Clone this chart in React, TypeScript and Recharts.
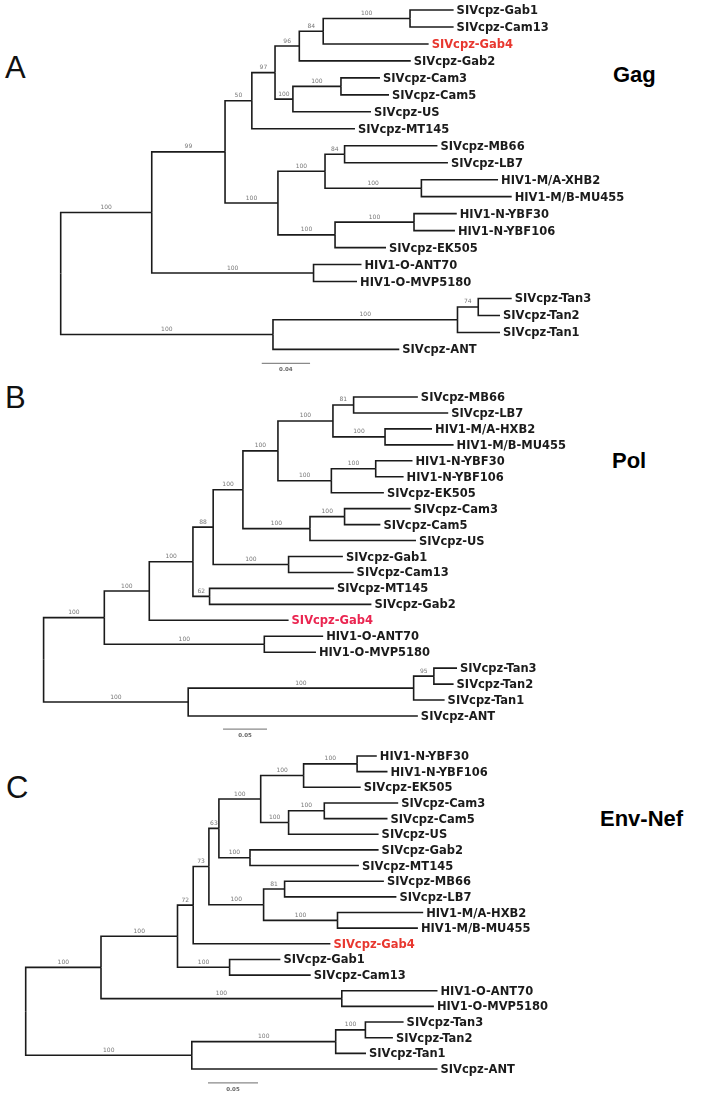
import React from 'react';
import { ComposedChart, Line, Scatter, XAxis, YAxis } from 'recharts';

// Trees. Depths are distances from the root (substitutions/site).
// internal nodes: [id, parent, depth, bootstrap]
type TreeNode = [string, string | null, number, number | null];
// leaves in drawing order: [name, parent, depth]
type TreeLeaf = [string, string, number];

const GAG_NODES: TreeNode[] = [
  ['root', null, 0, null],
  ['n1', 'root', 0.0754, 100],
  ['n2', 'n1', 0.1361, 99],
  ['n3', 'n2', 0.1583, 50],
  ['n4', 'n3', 0.1775, 97],
  ['n5', 'n4', 0.1976, 96],
  ['n6', 'n5', 0.2174, 84],
  ['n7', 'n6', 0.2893, 100],
  ['camus', 'n4', 0.1923, 100],
  ['cam', 'camus', 0.2321, 100],
  ['mbn', 'n2', 0.1799, 100],
  ['m', 'mbn', 0.2189, 100],
  ['mblb', 'm', 0.2351, 84],
  ['xhbmu', 'm', 0.2987, 100],
  ['n', 'mbn', 0.2272, 100],
  ['ybf', 'n', 0.2926, 100],
  ['o', 'n1', 0.2094, 100],
  ['tanant', 'root', 0.1758, 100],
  ['tan', 'tanant', 0.3286, 100],
  ['tan32', 'tan', 0.3458, 74],
];

const GAG_LEAVES: TreeLeaf[] = [
  ['SIVcpz-Gab1', 'n7', 0.3254],
  ['SIVcpz-Cam13', 'n7', 0.3254],
  ['SIVcpz-Gab4', 'n6', 0.3047],
  ['SIVcpz-Gab2', 'n5', 0.2899],
  ['SIVcpz-Cam3', 'cam', 0.2644],
  ['SIVcpz-Cam5', 'cam', 0.2719],
  ['SIVcpz-US', 'camus', 0.257],
  ['SIVcpz-MT145', 'n3', 0.2437],
  ['SIVcpz-MB66', 'mblb', 0.312],
  ['SIVcpz-LB7', 'mblb', 0.3207],
  ['HIV1-M/A-XHB2', 'xhbmu', 0.3622],
  ['HIV1-M/B-MU455', 'xhbmu', 0.3735],
  ['HIV1-N-YBF30', 'ybf', 0.328],
  ['HIV1-N-YBF106', 'ybf', 0.3265],
  ['SIVcpz-EK505', 'n', 0.2694],
  ['HIV1-O-ANT70', 'o', 0.2491],
  ['HIV1-O-MVP5180', 'o', 0.2454],
  ['SIVcpz-Tan3', 'tan32', 0.3735],
  ['SIVcpz-Tan2', 'tan32', 0.3638],
  ['SIVcpz-Tan1', 'tan', 0.3638],
  ['SIVcpz-ANT', 'tanant', 0.2804],
];

const POL_NODES: TreeNode[] = [
  ['root', null, 0, null],
  ['a', 'root', 0.069, 100],
  ['b', 'a', 0.1201, 100],
  ['c', 'b', 0.1697, 100],
  ['d', 'c', 0.1927, 88],
  ['e', 'd', 0.2265, 100],
  ['f', 'e', 0.2663, 100],
  ['g', 'f', 0.3288, 100],
  ['mblb', 'g', 0.3523, 81],
  ['hxbmu', 'g', 0.388, 100],
  ['n', 'f', 0.327, 100],
  ['ybf', 'n', 0.3774, 100],
  ['camus', 'e', 0.3027, 100],
  ['cam', 'camus', 0.342, 100],
  ['gabcam', 'd', 0.2784, 100],
  ['mtgab2', 'c', 0.1886, 62],
  ['o', 'a', 0.2508, 100],
  ['tanant', 'root', 0.1643, 100],
  ['tan', 'tanant', 0.4205, 100],
  ['tan32', 'tan', 0.4435, 95],
];

const POL_LEAVES: TreeLeaf[] = [
  ['SIVcpz-MB66', 'mblb', 0.4253],
  ['SIVcpz-LB7', 'mblb', 0.4598],
  ['HIV1-M/A-HXB2', 'hxbmu', 0.4414],
  ['HIV1-M/B-MU455', 'hxbmu', 0.4659],
  ['HIV1-N-YBF30', 'ybf', 0.4192],
  ['HIV1-N-YBF106', 'ybf', 0.4091],
  ['SIVcpz-EK505', 'n', 0.3867],
  ['SIVcpz-Cam3', 'cam', 0.4172],
  ['SIVcpz-Cam5', 'cam', 0.3827],
  ['SIVcpz-US', 'camus', 0.4232],
  ['SIVcpz-Gab1', 'gabcam', 0.3401],
  ['SIVcpz-Cam13', 'gabcam', 0.3523],
  ['SIVcpz-MT145', 'mtgab2', 0.3299],
  ['SIVcpz-Gab2', 'mtgab2', 0.3725],
  ['SIVcpz-Gab4', 'b', 0.2784],
  ['HIV1-O-ANT70', 'o', 0.3177],
  ['HIV1-O-MVP5180', 'o', 0.3095],
  ['SIVcpz-Tan3', 'tan32', 0.4698],
  ['SIVcpz-Tan2', 'tan32', 0.4659],
  ['SIVcpz-Tan1', 'tan', 0.4557],
  ['SIVcpz-ANT', 'tanant', 0.4253],
];

const ENV_NODES: TreeNode[] = [
  ['root', null, 0, null],
  ['a', 'root', 0.0753, 100],
  ['b', 'a', 0.1518, 100],
  ['c', 'b', 0.1675, 72],
  ['d', 'c', 0.1832, 73],
  ['e', 'd', 0.1932, 63],
  ['f', 'e', 0.235, 100],
  ['g', 'f', 0.2779, 100],
  ['ybf', 'g', 0.3314, 100],
  ['h', 'f', 0.2629, 100],
  ['cam', 'h', 0.2986, 100],
  ['gabmt', 'e', 0.2243, 100],
  ['m', 'd', 0.2379, 100],
  ['mblb', 'm', 0.2589, 81],
  ['hxbmu', 'm', 0.3118, 100],
  ['gabcam', 'b', 0.2039, 100],
  ['o', 'a', 0.3161, 100],
  ['tanant', 'root', 0.1661, 100],
  ['tan', 'tanant', 0.31, 100],
  ['tan32', 'tan', 0.3397, 100],
];

const ENV_LEAVES: TreeLeaf[] = [
  ['HIV1-N-YBF30', 'ybf', 0.3511],
  ['HIV1-N-YBF106', 'ybf', 0.3618],
  ['SIVcpz-EK505', 'g', 0.335],
  ['SIVcpz-Cam3', 'cam', 0.3725],
  ['SIVcpz-Cam5', 'cam', 0.3618],
  ['SIVcpz-US', 'h', 0.3529],
  ['SIVcpz-Gab2', 'gabmt', 0.3529],
  ['SIVcpz-MT145', 'gabmt', 0.3332],
  ['SIVcpz-MB66', 'mblb', 0.3582],
  ['SIVcpz-LB7', 'mblb', 0.3707],
  ['HIV1-M/A-HXB2', 'hxbmu', 0.3975],
  ['HIV1-M/B-MU455', 'hxbmu', 0.3922],
  ['SIVcpz-Gab4', 'c', 0.3047],
  ['SIVcpz-Gab1', 'gabcam', 0.2547],
  ['SIVcpz-Cam13', 'gabcam', 0.285],
  ['HIV1-O-ANT70', 'o', 0.4118],
  ['HIV1-O-MVP5180', 'o', 0.4082],
  ['SIVcpz-Tan3', 'tan32', 0.3779],
  ['SIVcpz-Tan2', 'tan32', 0.3672],
  ['SIVcpz-Tan1', 'tan', 0.3403],
  ['SIVcpz-ANT', 'tanant', 0.4118],
];

const SCALE_LENGTHS = [0.04, 0.05, 0.05];
const HIGHLIGHT = 'SIVcpz-Gab4';

interface PanelConfig {
  nodes: TreeNode[];
  leaves: TreeLeaf[];
  scaleLen: number;
  top: number;
  height: number;
  rootX: number;
  pxPerUnit: number;
  firstY: number;
  step: number;
  scaleAt: [number, number];
  accent: string;
}

const PANELS: PanelConfig[] = [
  {
    nodes: GAG_NODES, leaves: GAG_LEAVES, scaleLen: SCALE_LENGTHS[0],
    top: 0, height: 380, rootX: 60.7, pxPerUnit: 1207.5, firstY: 10, step: 16.97,
    scaleAt: [0.1665, 20.82], accent: '#e8372f',
  },
  {
    nodes: POL_NODES, leaves: POL_LEAVES, scaleLen: SCALE_LENGTHS[1],
    top: 380, height: 362, rootX: 43.6, pxPerUnit: 880, firstY: 397, step: 15.95,
    scaleAt: [0.2039, 20.82], accent: '#ea2550',
  },
  {
    nodes: ENV_NODES, leaves: ENV_LEAVES, scaleLen: SCALE_LENGTHS[2],
    top: 742, height: 353, rootX: 25.7, pxPerUnit: 1000, firstY: 756, step: 15.65,
    scaleAt: [0.1823, 20.89], accent: '#e8372f',
  },
];

const WIDTH = 722;
const INK = '#1b1b1b';

type Pt = { x: number; y: number; text?: string };

function buildTree(nodes: TreeNode[], leaves: TreeLeaf[]) {
  const depth = new Map<string, number>();
  const parent = new Map<string, string | null>();
  const kids = new Map<string, string[]>();
  const ys = new Map<string, number>();
  const addKid = (p: string | null, id: string) => {
    if (!p) return;
    if (!kids.has(p)) kids.set(p, []);
    kids.get(p)!.push(id);
  };
  nodes.forEach(([id, p, d]) => {
    depth.set(id, d);
    parent.set(id, p);
    addKid(p, id);
  });
  leaves.forEach(([name, p, d], i) => {
    depth.set(name, d);
    parent.set(name, p);
    ys.set(name, i);
    addKid(p, name);
  });
  // node sits halfway between its outermost children
  const yOf = (id: string): number => {
    if (ys.has(id)) return ys.get(id)!;
    const c = (kids.get(id) || []).map(yOf);
    const y = (Math.min(...c) + Math.max(...c)) / 2;
    ys.set(id, y);
    return y;
  };

  const ids = [...nodes.map((n) => n[0]), ...leaves.map((l) => l[0])];
  const branches: Pt[][] = [];
  ids.forEach((id) => {
    const p = parent.get(id);
    if (!p) return;
    const px = depth.get(p)!;
    branches.push([
      { x: px, y: yOf(p) },
      { x: px, y: yOf(id) },
      { x: depth.get(id)!, y: yOf(id) },
    ]);
  });

  const support: Pt[] = nodes
    .filter((n) => n[1] && n[3] != null)
    .map(([id, p, d, s]) => ({
      x: (depth.get(p as string)! + d) / 2,
      y: yOf(id),
      text: String(s),
    }));

  const tips: Pt[] = leaves.map(([name, , d], i) => ({ x: d, y: i, text: name }));
  return { branches, support, tips };
}

const TreePanel: React.FC<{ cfg: PanelConfig }> = ({ cfg }) => {
  const { branches, support, tips } = React.useMemo(
    () => buildTree(cfg.nodes, cfg.leaves),
    [cfg],
  );
  const xDomain = [-cfg.rootX / cfg.pxPerUnit, (WIDTH - cfg.rootX) / cfg.pxPerUnit];
  const yMin = -(cfg.firstY - cfg.top) / cfg.step;
  const yDomain = [yMin, yMin + cfg.height / cfg.step];
  const [sx, sy] = cfg.scaleAt;
  const scaleBar: Pt[] = [
    { x: sx, y: sy },
    { x: sx + cfg.scaleLen, y: sy },
  ];
  const scaleText: Pt[] = [{ x: sx + cfg.scaleLen / 2, y: sy, text: cfg.scaleLen.toFixed(2) }];

  return (
    <div style={{ position: 'absolute', left: 0, top: cfg.top, willChange: 'transform' }}>
      <ComposedChart
        width={WIDTH}
        height={cfg.height}
        margin={{ top: 0, right: 0, bottom: 0, left: 0 }}
      >
        <XAxis dataKey="x" type="number" domain={xDomain} allowDataOverflow hide />
        <YAxis dataKey="y" type="number" domain={yDomain} allowDataOverflow reversed hide />
        {branches.map((pts, i) => (
          <Line
            key={`br-${i}`}
            data={pts}
            dataKey="y"
            type="linear"
            stroke={INK}
            strokeWidth={1.6}
            dot={false}
            activeDot={false}
            isAnimationActive={false}
          />
        ))}
        <Line
          data={scaleBar}
          dataKey="y"
          type="linear"
          stroke="#8a8a8a"
          strokeWidth={1.3}
          dot={false}
          activeDot={false}
          isAnimationActive={false}
        />
        <Scatter
          data={scaleText}
          isAnimationActive={false}
          shape={(p: any) => (
            <text x={p.cx} y={p.cy + 8} textAnchor="middle" fontSize={5.5}
              fontFamily="DejaVu Sans" fontWeight="bold" fill="#666">
              {p.payload.text}
            </text>
          )}
        />
        <Scatter
          data={support}
          isAnimationActive={false}
          shape={(p: any) => (
            <text x={p.cx} y={p.cy - 3.5} textAnchor="middle" fontSize={6}
              fontFamily="DejaVu Sans" fill="#777">
              {p.payload.text}
            </text>
          )}
        />
        <Scatter
          data={tips}
          isAnimationActive={false}
          shape={(p: any) => (
            <text x={p.cx + 3} y={p.cy} dominantBaseline="central" fontSize={11.5}
              fontFamily="DejaVu Sans" fontWeight="bold"
              fill={p.payload.text === HIGHLIGHT ? cfg.accent : INK}>
              {p.payload.text}
            </text>
          )}
        />
      </ComposedChart>
    </div>
  );
};

const LETTERS = [
  { t: 'A', x: 5, y: 78 },
  { t: 'B', x: 5, y: 408 },
  { t: 'C', x: 6, y: 798 },
];
const TITLES = [
  { t: 'Gag', x: 613, y: 82 },
  { t: 'Pol', x: 612, y: 468 },
  { t: 'Env-Nef', x: 600, y: 826 },
];

export default function App() {
  return (
    <div style={{ position: 'absolute', left: 0, top: 0, width: WIDTH, height: 1095, background: '#fff' }}>
      <svg width={WIDTH} height={1095} style={{ position: 'absolute', left: 0, top: 0 }}>
        {LETTERS.map((l) => (
          <text key={l.t} x={l.x} y={l.y} fontSize={31} fontFamily="Liberation Sans" fill="#111">
            {l.t}
          </text>
        ))}
        {TITLES.map((l) => (
          <text key={l.t} x={l.x} y={l.y} fontSize={22} fontWeight="bold"
            fontFamily="Liberation Sans" fill="#000">
            {l.t}
          </text>
        ))}
      </svg>
      {PANELS.map((cfg, i) => (
        <TreePanel key={i} cfg={cfg} />
      ))}
    </div>
  );
}
